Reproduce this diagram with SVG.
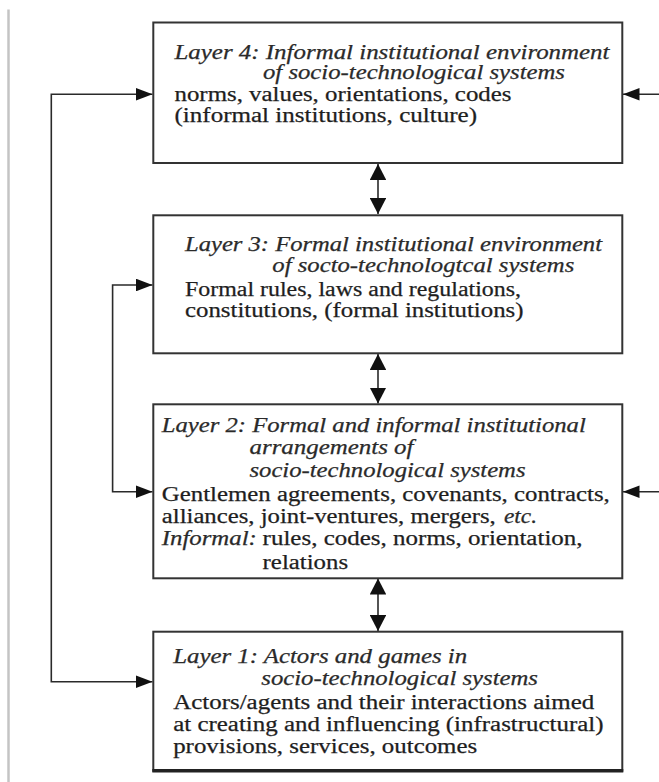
<svg xmlns="http://www.w3.org/2000/svg" width="659" height="782" viewBox="0 0 659 782">
  <style>
    .box { fill: #ffffff; stroke: #333333; stroke-width: 2; }
    .wire { fill: none; stroke: #2a2a2a; stroke-width: 1.6; }
    .t { font-family: "Liberation Serif", "Times New Roman", serif; font-size: 20.5px; fill: #1e1e1e; stroke: #1e1e1e; stroke-width: 0.25; }
    .i { font-style: italic; fill: #2a2a2a; stroke: #2a2a2a; }
    .rule { stroke: #c4c4c4; stroke-width: 2.5; }
  </style>
  <defs>
    <!-- horizontal arrowheads -->
    <marker id="ah" markerUnits="userSpaceOnUse" viewBox="0 0 16.5 12.6" markerWidth="16.5" markerHeight="12.6" refX="16.5" refY="6.3" orient="auto-start-reverse">
      <path d="M0,0 L16.5,6.3 L0,12.6 Z" fill="#111"/>
    </marker>
    <!-- vertical arrowheads -->
    <marker id="av" markerUnits="userSpaceOnUse" viewBox="0 0 16 16.6" markerWidth="16" markerHeight="16.6" refX="16" refY="8.3" orient="auto-start-reverse">
      <path d="M0,0 L16,8.3 L0,16.6 Z" fill="#111"/>
    </marker>
  </defs>

  <!-- margin rule -->
  <line class="rule" x1="8.5" y1="9.5" x2="8.5" y2="782"/>

  <g id="connectors">
    <!-- between stacked layers -->
    <line class="wire" x1="378" y1="164" x2="378" y2="214" marker-start="url(#av)" marker-end="url(#av)"/>
    <line class="wire" x1="378" y1="354" x2="378" y2="403.5" marker-start="url(#av)" marker-end="url(#av)"/>
    <line class="wire" x1="378" y1="578.5" x2="378" y2="631" marker-start="url(#av)" marker-end="url(#av)"/>
    <!-- left feedback loops -->
    <path class="wire" d="M152.5,94.3 H51.3 V681.7 H152.5" marker-start="url(#ah)" marker-end="url(#ah)"/>
    <path class="wire" d="M152.5,285 H112.6 V491.7 H152.5" marker-start="url(#ah)" marker-end="url(#ah)"/>
    <!-- inputs from the right -->
    <line class="wire" x1="659" y1="94.3" x2="623" y2="94.3" marker-end="url(#ah)"/>
    <line class="wire" x1="659" y1="491.7" x2="623" y2="491.7" marker-end="url(#ah)"/>
  </g>

  <g id="layer4">
    <rect class="box" x="153.3" y="22.5" width="469" height="140.5"/>
    <text class="t i" x="174.5" y="59" textLength="435" lengthAdjust="spacingAndGlyphs">Layer 4: Informal institutional environment</text>
    <text class="t i" x="263" y="79" textLength="302" lengthAdjust="spacingAndGlyphs">of socio-technological systems</text>
    <text class="t" x="174.5" y="100.5" textLength="337" lengthAdjust="spacingAndGlyphs">norms, values, orientations, codes</text>
    <text class="t" x="174.5" y="121.5" textLength="302.5" lengthAdjust="spacingAndGlyphs">(informal institutions, culture)</text>
  </g>

  <g id="layer3">
    <rect class="box" x="153.3" y="215.3" width="469" height="138"/>
    <text class="t i" x="185" y="250.5" textLength="417" lengthAdjust="spacingAndGlyphs">Layer 3: Formal institutional environment</text>
    <text class="t i" x="272.3" y="272" textLength="302" lengthAdjust="spacingAndGlyphs">of socto-technologtcal systems</text>
    <text class="t" x="185" y="295.5" textLength="336" lengthAdjust="spacingAndGlyphs">Formal rules, laws and regulations,</text>
    <text class="t" x="185" y="317" textLength="338.5" lengthAdjust="spacingAndGlyphs">constitutions, (formal institutions)</text>
  </g>

  <g id="layer2">
    <rect class="box" x="153.3" y="404.3" width="469" height="174"/>
    <text class="t i" x="161.8" y="432" textLength="424" lengthAdjust="spacingAndGlyphs">Layer 2: Formal and informal institutional</text>
    <text class="t i" x="249.5" y="453.5" textLength="164" lengthAdjust="spacingAndGlyphs">arrangements of</text>
    <text class="t i" x="249.5" y="476.5" textLength="276" lengthAdjust="spacingAndGlyphs">socio-technological systems</text>
    <text class="t" x="161.8" y="500.5" textLength="448" lengthAdjust="spacingAndGlyphs">Gentlemen agreements, covenants, contracts,</text>
    <text class="t" x="161.8" y="523" textLength="334" lengthAdjust="spacingAndGlyphs">alliances, joint-ventures, mergers,</text>
    <text class="t i" x="504" y="523" textLength="33" lengthAdjust="spacingAndGlyphs">etc.</text>
    <text class="t i" x="161.8" y="545" textLength="95" lengthAdjust="spacingAndGlyphs">Informal:</text>
    <text class="t" x="262.6" y="545" textLength="320" lengthAdjust="spacingAndGlyphs">rules, codes, norms, orientation,</text>
    <text class="t" x="262.6" y="568.5" textLength="85.5" lengthAdjust="spacingAndGlyphs">relations</text>
  </g>

  <g id="layer1">
    <rect class="box" x="153.3" y="631.7" width="469" height="139"/>
    <line x1="152.3" y1="770.7" x2="623.3" y2="770.7" stroke="#222" stroke-width="3.5"/>
    <text class="t i" x="173.2" y="662.5" textLength="294" lengthAdjust="spacingAndGlyphs">Layer 1: Actors and games in</text>
    <text class="t i" x="261.3" y="684.5" textLength="276.7" lengthAdjust="spacingAndGlyphs">socio-technological systems</text>
    <text class="t" x="173.2" y="709" textLength="421" lengthAdjust="spacingAndGlyphs">Actors/agents and their interactions aimed</text>
    <text class="t" x="173.2" y="730.5" textLength="430.4" lengthAdjust="spacingAndGlyphs">at creating and influencing (infrastructural)</text>
    <text class="t" x="173.2" y="753" textLength="304" lengthAdjust="spacingAndGlyphs">provisions, services, outcomes</text>
  </g>
</svg>
